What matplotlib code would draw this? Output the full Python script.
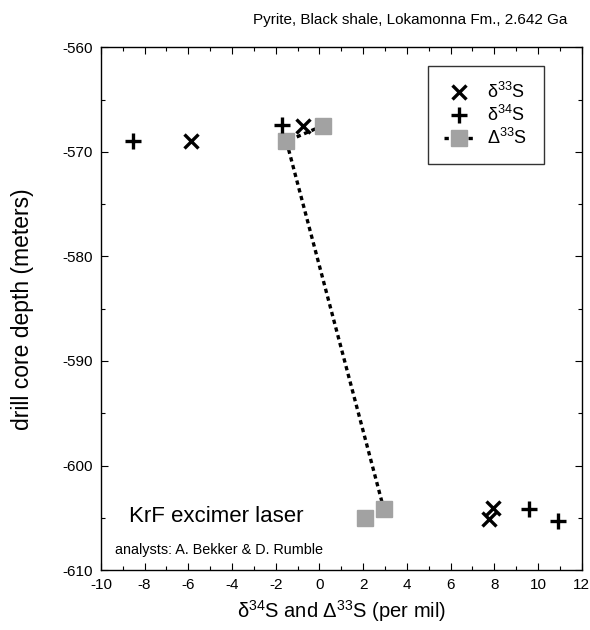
import matplotlib
matplotlib.use("Agg")
import matplotlib.pyplot as plt
from matplotlib.lines import Line2D
from matplotlib.ticker import MultipleLocator

plt.rcParams["font.family"] = ["Liberation Sans", "DejaVu Sans"]
plt.rcParams["axes.unicode_minus"] = False

# delta-33S (x markers)
d33_x = [-5.9, -0.75, 7.92, 7.77]
d33_y = [-569.0, -567.5, -604.1, -605.15]

# delta-34S (+ markers)
d34_x = [-8.53, -1.71, 9.6, 10.93]
d34_y = [-569.0, -567.4, -604.2, -605.3]

# Delta-33S (grey squares joined by dotted line)
D33_x = [0.15, -1.51, 2.95, 2.1]
D33_y = [-567.5, -569.0, -604.2, -605.0]

x_ticks = [-10, -8, -6, -4, -2, 0, 2, 4, 6, 8, 10, 12]
y_ticks = [-610, -600, -590, -580, -570, -560]

fig = plt.figure(figsize=(5.9, 6.3), dpi=100)
ax = fig.add_axes([0.171, 0.095, 0.815, 0.830])

grey = "#a2a2a2"
dots = (0, (1.3, 1.1))
ax.plot(D33_x, D33_y, color="black", linestyle=dots, linewidth=2.4, zorder=2)
ax.plot(D33_x, D33_y, linestyle="none", marker="s", markersize=11,
        markerfacecolor=grey, markeredgecolor=grey, zorder=3)
ax.plot(d33_x, d33_y, linestyle="none", marker="x", markersize=10,
        markeredgewidth=2.4, color="black", zorder=4)
ax.plot(d34_x, d34_y, linestyle="none", marker="+", markersize=12,
        markeredgewidth=2.4, color="black", zorder=4)

ax.set_xlim(-10, 12)
ax.set_ylim(-610, -560)
ax.set_xticks(x_ticks)
ax.set_yticks(y_ticks)
ax.xaxis.set_minor_locator(MultipleLocator(1))
ax.yaxis.set_minor_locator(MultipleLocator(5))
ax.tick_params(which="both", direction="in", top=True, right=True,
               labelsize=11, width=0.8)
ax.tick_params(which="major", length=5, pad=6)
ax.tick_params(which="minor", length=3)
for s in ax.spines.values():
    s.set_linewidth(1.0)

ax.set_xlabel(r"δ$\mathregular{^{34}}$S and Δ$\mathregular{^{33}}$S (per mil)",
              fontsize=14.5, labelpad=4)
ax.set_ylabel("drill core depth (meters)", fontsize=16.5)
ax.yaxis.set_label_coords(-0.14, 0.5)

fig.text(567 / 590, 1 - 20 / 630, "Pyrite, Black shale, Lokamonna Fm., 2.642 Ga",
         ha="right", va="center", fontsize=11)

ax.text(-8.7, -604.9, "KrF excimer laser", fontsize=16, va="center")
ax.text(-9.35, -608.1, "analysts: A. Bekker & D. Rumble", fontsize=10.4, va="center")

handles = [
    Line2D([], [], linestyle="none", marker="x", markersize=10,
           markeredgewidth=2.4, color="black"),
    Line2D([], [], linestyle="none", marker="+", markersize=12,
           markeredgewidth=2.4, color="black"),
    Line2D([], [], color="black", linestyle=dots, linewidth=2.4,
           marker="s", markersize=11, markerfacecolor=grey, markeredgecolor=grey),
]
labels = [r"δ$\mathregular{^{33}}$S", r"δ$\mathregular{^{34}}$S",
          r"Δ$\mathregular{^{33}}$S"]
leg = ax.legend(handles, labels, loc="upper left", bbox_to_anchor=(0.68, 0.964),
                fontsize=13, frameon=True, fancybox=False, handlelength=1.6,
                labelspacing=0.15, borderpad=0.9, handletextpad=0.8,
                borderaxespad=0)
leg.get_frame().set_edgecolor("black")
leg.get_frame().set_linewidth(1.0)

fig.savefig("out.png", dpi=100)
